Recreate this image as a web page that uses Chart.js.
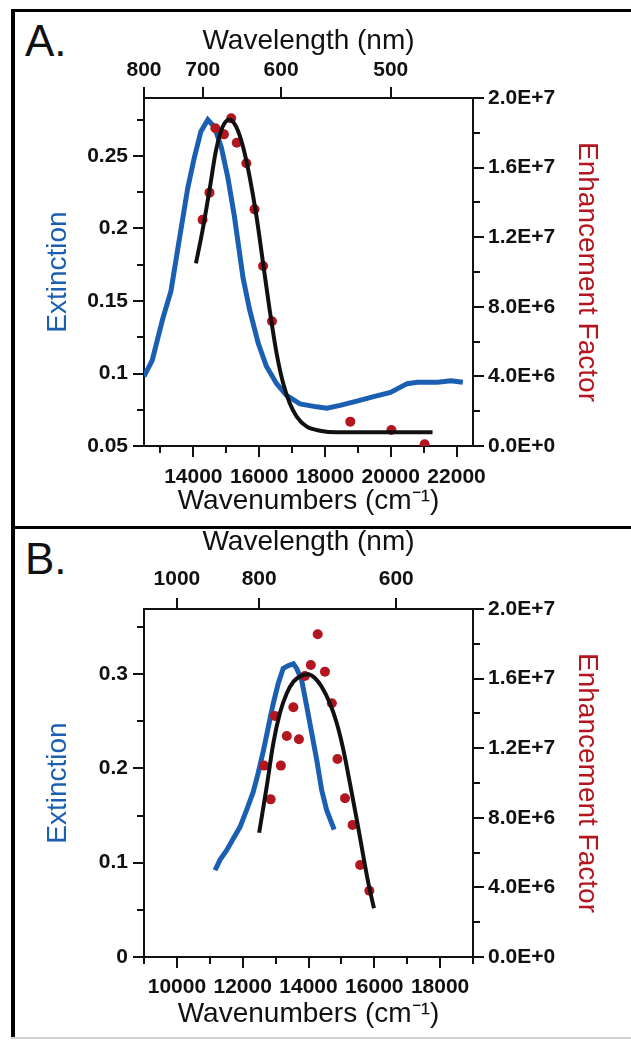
<!DOCTYPE html>
<html>
<head>
<meta charset="utf-8">
<title>Extinction and enhancement factor</title>
<script src="https://cdn.jsdelivr.net/npm/chart.js@4.4.1/dist/chart.umd.min.js"></script>
<style>
  html, body { margin: 0; padding: 0; background: #fff; }
  body { width: 631px; height: 1043px; position: relative; overflow: hidden; font-family: "Liberation Sans", Arial, sans-serif; }
  canvas { position: absolute; left: 0; }
  #chartA { top: 0; }
  #chartB { top: 500px; }
  .rule { position: absolute; background: #000; }
  .panel-label { position: absolute; left: 25px; font-size: 44px; line-height: 44px; color: #111; }
</style>
</head>
<body>
<div class="rule" style="left:11px;top:9px;right:0;height:3px"></div>
<div class="rule" style="left:11px;top:9px;width:4px;height:1029px"></div>
<div class="rule" style="left:11px;top:526px;right:0;height:3px"></div>
<div class="rule" style="left:11px;top:1037px;right:0;height:2px;background:#cfcfcf"></div>
<div class="panel-label" style="top:19px">A.</div>
<div class="panel-label" style="top:537px">B.</div>
<canvas id="chartA" width="631" height="527"></canvas>
<canvas id="chartB" width="631" height="543"></canvas>
<script>
// ---- panel A data ----
const wnExtA = [12500, 12750, 13060, 13320, 13570, 13830, 14030, 14230, 14440, 14640, 14850, 15050, 15250, 15510, 15710, 15970, 16220, 16530, 16830, 17240, 17750, 18060, 18460, 18970, 19480, 19990, 20500, 20810, 21420, 21830, 22190];
const extA = [0.098, 0.109, 0.137, 0.157, 0.192, 0.228, 0.249, 0.267, 0.275, 0.270, 0.256, 0.235, 0.208, 0.166, 0.144, 0.121, 0.105, 0.093, 0.085, 0.079, 0.077, 0.076, 0.078, 0.081, 0.084, 0.087, 0.093, 0.094, 0.094, 0.095, 0.094];
const wnFitA = [14080, 14280, 14490, 14690, 14890, 15100, 15300, 15510, 15710, 15920, 16120, 16320, 16530, 16730, 16930, 17140, 17450, 17850, 18360, 19500, 21270];
const fitA = [1.05e7, 1.24e7, 1.47e7, 1.70e7, 1.835e7, 1.877e7, 1.835e7, 1.72e7, 1.548e7, 1.318e7, 1.05e7, 7.82e6, 5.33e6, 3.6e6, 2.45e6, 1.69e6, 1.11e6, 0.88e6, 0.79e6, 0.79e6, 0.79e6];
const wnEfA = [14280, 14490, 14670, 14930, 15150, 15320, 15610, 15860, 16120, 16390, 18770, 20020, 21030];
const efA = [1.30e7, 1.456e7, 1.826e7, 1.791e7, 1.883e7, 1.743e7, 1.625e7, 1.36e7, 1.034e7, 7.17e6, 1.40e6, 0.92e6, 0.10e6];

const extTicksA = [0.05, 0.1, 0.15, 0.2, 0.25];
const extMinorA = [0.075, 0.125, 0.175, 0.225, 0.275];
const wnTicksA = [14000, 16000, 18000, 20000, 22000];
const wnMinorA = [13000, 15000, 17000, 19000, 21000];
const nmTicksA = [800, 700, 600, 500];

// ---- panel B data ----
const wnExtB = [11160, 11310, 11510, 11720, 11920, 12120, 12320, 12470, 12630, 12780, 12930, 13080, 13230, 13390, 13540, 13640, 13790, 13950, 14100, 14250, 14400, 14550, 14780];
const extB = [0.092, 0.103, 0.113, 0.126, 0.138, 0.156, 0.175, 0.195, 0.219, 0.244, 0.269, 0.290, 0.306, 0.309, 0.311, 0.306, 0.294, 0.265, 0.237, 0.209, 0.177, 0.156, 0.135];
const wnFitB = [12500, 12730, 12930, 13130, 13340, 13540, 13790, 13990, 14200, 14400, 14650, 14860, 15060, 15260, 15470, 15670, 15820, 15990];
const fitB = [7.14e6, 9.79e6, 1.228e7, 1.401e7, 1.516e7, 1.582e7, 1.617e7, 1.625e7, 1.602e7, 1.553e7, 1.458e7, 1.343e7, 1.19e7, 9.98e6, 7.87e6, 5.76e6, 4.24e6, 2.80e6];
const wnEfB = [12650, 12850, 12980, 13160, 13340, 13540, 13710, 13890, 14070, 14280, 14500, 14710, 14880, 15110, 15340, 15570, 15850];
const efB = [1.10e7, 9.06e6, 1.385e7, 1.10e7, 1.27e7, 1.435e7, 1.251e7, 1.615e7, 1.678e7, 1.855e7, 1.64e7, 1.458e7, 1.138e7, 9.12e6, 7.59e6, 5.29e6, 3.81e6];

const extTicksB = [0, 0.1, 0.2, 0.3];
const extMinorB = [0.05, 0.15, 0.25, 0.35];
const wnTicksB = [10000, 12000, 14000, 16000, 18000];
const wnMinorB = [9000, 11000, 13000, 15000, 17000, 19000];
const nmTicksB = [1000, 800, 600];

// shared right axis
const efTicks = [0, 4e6, 8e6, 1.2e7, 1.6e7, 2e7];
const efMinor = [2e6, 6e6, 1e7, 1.4e7, 1.8e7];

const INK = '#111';
const BLUE = '#1b5fb2';
const RED = '#b3161f';
const FONT = '"Liberation Sans", Arial, sans-serif';
const TICK_FONT = { family: FONT, size: 21, weight: 'bold' };
const TITLE_FONT = { family: FONT, size: 28 };

const zip = (xs, ys) => xs.map((x, i) => ({ x: x, y: ys[i] }));

function axis(o) {
  return {
    type: 'linear',
    position: o.position,
    min: o.min,
    max: o.max,
    border: { display: true, color: INK, width: 2 },
    grid: { display: true, drawOnChartArea: false, drawTicks: true, tickLength: 11, tickWidth: 2, tickColor: INK, lineWidth: 2, color: INK },
    ticks: { color: INK, font: TICK_FONT, padding: o.pad, autoSkip: false, maxRotation: 0, minRotation: 0, callback: o.label },
    title: { display: true, text: o.title, color: o.titleColor || INK, font: TITLE_FONT, padding: o.titlePad },
    afterBuildTicks: s => { s.ticks = o.ticks.map(v => ({ value: v })); },
    afterFit: s => {
      if (o.width != null) s.width = o.width;
      if (o.height != null) s.height = o.height;
    }
  };
}

// short unlabeled ticks between the labeled ones
function minorTicks(map) {
  return {
    id: 'minorTicks',
    afterDraw(chart) {
      const ctx = chart.ctx;
      const a = chart.chartArea;
      ctx.save();
      ctx.strokeStyle = INK;
      ctx.lineWidth = 2;
      Object.keys(map).forEach(id => {
        const s = chart.scales[id];
        map[id].forEach(v => {
          const p = Math.round(s.getPixelForValue(v));
          ctx.beginPath();
          if (s.position === 'left') { ctx.moveTo(a.left, p); ctx.lineTo(a.left - 7, p); }
          else if (s.position === 'right') { ctx.moveTo(a.right, p); ctx.lineTo(a.right + 7, p); }
          else if (s.position === 'bottom') { ctx.moveTo(p, a.bottom); ctx.lineTo(p, a.bottom + 7); }
          else { ctx.moveTo(p, a.top); ctx.lineTo(p, a.top - 7); }
          ctx.stroke();
        });
      });
      ctx.restore();
    }
  };
}

function panel(id, p) {
  const canvas = document.getElementById(id);
  const H = canvas.height;
  const W = canvas.width;
  return new Chart(canvas, {
    type: 'line',
    data: {
      datasets: [
        { label: 'fit', data: zip(p.wnFit, p.fit), yAxisID: 'yEF', borderColor: INK, borderWidth: 4, pointRadius: 0, cubicInterpolationMode: 'monotone', fill: false },
        { label: 'Enhancement Factor', data: zip(p.wnEf, p.ef), yAxisID: 'yEF', showLine: false, pointRadius: 5, pointBackgroundColor: RED, pointBorderWidth: 0, borderColor: RED },
        { label: 'Extinction', data: zip(p.wnExt, p.ext), yAxisID: 'y', borderColor: BLUE, borderWidth: 5, pointRadius: 0, tension: 0, fill: false }
      ]
    },
    options: {
      responsive: false,
      animation: false,
      devicePixelRatio: 1,
      layout: { padding: 0, autoPadding: false },
      plugins: { legend: { display: false }, tooltip: { enabled: false } },
      scales: {
        x: axis({ position: 'bottom', min: p.xMin, max: p.xMax, ticks: p.wnTicks, pad: p.bottomPad, height: H - p.area.bottom,
          label: v => String(v), title: 'Wavenumbers (cm\u207B\u00B9)', titlePad: { top: 0, bottom: p.bottomTitlePad } }),
        xTop: axis({ position: 'top', min: p.xMin, max: p.xMax, ticks: p.nmTicks.map(nm => 1e7 / nm), pad: p.topPad, height: p.area.top,
          label: v => String(Math.round(1e7 / v)), title: 'Wavelength (nm)', titlePad: { top: p.topTitlePad, bottom: 0 } }),
        y: axis({ position: 'left', min: p.yMin, max: p.yMax, ticks: p.extTicks, pad: 5, width: p.area.left,
          label: v => String(v), title: 'Extinction', titleColor: BLUE, titlePad: { top: 41, bottom: 0 } }),
        yEF: axis({ position: 'right', min: 0, max: 2e7, ticks: efTicks, pad: 4, width: W - p.area.right,
          label: v => v.toExponential(1).toUpperCase(), title: 'Enhancement Factor', titleColor: RED, titlePad: { top: 27, bottom: 0 } })
      }
    },
    plugins: [minorTicks({ y: p.extMinor, yEF: efMinor, x: p.wnMinor })]
  });
}

panel('chartA', {
  wnExt: wnExtA, ext: extA, wnFit: wnFitA, fit: fitA, wnEf: wnEfA, ef: efA,
  xMin: 12500, xMax: 22500, yMin: 0.05, yMax: 0.29,
  extTicks: extTicksA, extMinor: extMinorA, wnTicks: wnTicksA, wnMinor: wnMinorA, nmTicks: nmTicksA,
  area: { left: 144, right: 473, top: 98, bottom: 446 },
  topPad: 4, bottomPad: 8, topTitlePad: 24, bottomTitlePad: 9
});

panel('chartB', {
  wnExt: wnExtB, ext: extB, wnFit: wnFitB, fit: fitB, wnEf: wnEfB, ef: efB,
  xMin: 9000, xMax: 19000, yMin: 0, yMax: 0.369,
  extTicks: extTicksB, extMinor: extMinorB, wnTicks: wnTicksB, wnMinor: wnMinorB, nmTicks: nmTicksB,
  area: { left: 144, right: 473, top: 109, bottom: 457 },
  topPad: 6, bottomPad: 7, topTitlePad: 25, bottomTitlePad: 12
});
</script>
</body>
</html>
